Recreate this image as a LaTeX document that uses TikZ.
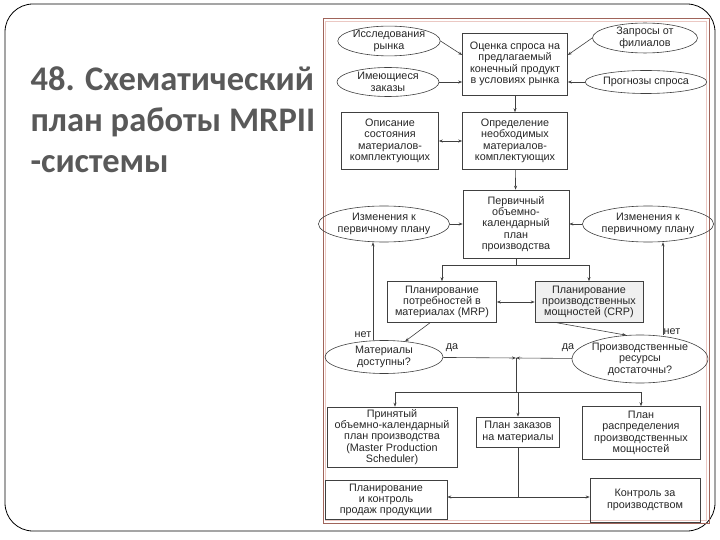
\documentclass[tikz,border=0pt]{standalone}
\usepackage{fontspec}
\setmainfont{Liberation Sans}
\newfontfamily\titlefont{Carlito}
\usetikzlibrary{arrows.meta, shapes.geometric}

\definecolor{titlegray}{RGB}{89,89,89}
\definecolor{framebrown}{RGB}{160,100,90}
\definecolor{framepink}{RGB}{235,200,195}

\begin{document}
\begin{tikzpicture}[x=1pt, y=-1pt,
    every node/.style={font=\fontsize{10.8}{11.4}\selectfont, text=black!85},
    box/.style={draw=black!75, line width=0.6pt, align=center, inner sep=1pt},
    oval/.style={draw=black!75, line width=0.6pt, ellipse, align=center, inner sep=0pt},
    arr/.style={-{Stealth[length=4pt, width=3pt]}, draw=black!75, line width=0.6pt},
    link/.style={draw=black!75, line width=0.6pt}]
  \useasboundingbox (0,0) rectangle (720,540);
  % slide frame and picture frame
  \draw[line width=0.8pt, rounded corners=28pt] (5,4) rectangle (715,531);
  \draw[framebrown, line width=1pt] (323,19) rectangle (709,523);
  \draw[framepink, line width=0.8pt] (325.5,21.5) rectangle (706.5,520.5);
  % title
  \node[anchor=base west, align=left, text=titlegray,
        font=\titlefont\bfseries\fontsize{34.5}{41}\selectfont] (title) at (27,173)
    {48. Схематический\\план работы MRPII\\-системы};

  % top row
  \node[box, minimum width=105pt, minimum height=62pt] (ocenka) at (515,64)
    {Оценка спроса на\\предлагаемый\\конечный продукт\\в условиях рынка};
  \node[oval, minimum width=102pt, minimum height=27pt] (issled) at (389,41) {Исследования\\рынка};
  \node[oval, minimum width=102pt, minimum height=29pt] (imeyu) at (388,82) {Имеющиеся\\заказы};
  \node[oval, minimum width=105pt, minimum height=29pt] (zapros) at (645,38) {Запросы от\\филиалов};
  \node[oval, minimum width=108pt, minimum height=23pt] (prognoz) at (646,82) {Прогнозы спроса};
  \draw[arr] (issled.east) -- ([yshift=9pt]ocenka.west);
  \draw[arr] (imeyu.east) -- (imeyu.east -| ocenka.west);
  \draw[arr] (zapros.west) -- ([yshift=9pt]ocenka.east);
  \draw[arr] (prognoz.west) -- (prognoz.west -| ocenka.east);

  % materials
  \node[box, minimum width=97pt, minimum height=57pt] (opis) at (390,141)
    {Описание\\состояния\\материалов-\\комплектующих};
  \node[box, minimum width=105pt, minimum height=57pt] (opred) at (515,141)
    {Определение\\необходимых\\материалов-\\комплектующих};
  \draw[arr] (ocenka) -- (opred);
  \draw[arr, {Stealth[length=4pt, width=3pt]}-{Stealth[length=4pt, width=3pt]}] (opis) -- (opred);

  % primary plan
  \node[box, minimum width=106pt, minimum height=68pt] (perv) at (516,224)
    {Первичный\\объемно-\\календарный\\план\\производства};
  \node[oval, minimum width=112pt, minimum height=36pt] (izmL) at (384,224) {Изменения к\\первичному плану};
  \node[oval, minimum width=111pt, minimum height=36pt] (izmR) at (648,224) {Изменения к\\первичному плану};
  \draw[arr] (opred) -- (perv);
  \draw[arr] (izmL) -- (perv);
  \draw[arr] (izmR) -- (perv);

  % MRP / CRP
  \coordinate (split) at (516,265);
  \node[box, minimum width=109pt, minimum height=41pt] (mrp) at (442,302)
    {Планирование\\потребностей в\\материалах (MRP)};
  \node[box, fill=black!6, minimum width=108pt, minimum height=41pt] (crp) at (589,302)
    {Планирование\\производственных\\мощностей (CRP)};
  \draw[link] (perv) -- (split);
  \draw[arr] (split) -| (mrp);
  \draw[arr] (split) -| (crp);
  \draw[arr, {Stealth[length=4pt, width=3pt]}-{Stealth[length=4pt, width=3pt]}] (mrp) -- (crp);

  % checks
  \node[oval, minimum width=118pt, minimum height=33pt] (mater) at (384,357) {Материалы\\доступны?};
  \node[oval, minimum width=125pt, minimum height=48pt] (proizv) at (640,359)
    {Производственные\\ресурсы\\достаточны?};
  \coordinate (junc) at (516,358);
  \draw[arr] ([xshift=-12pt]mrp.south) -- (mater);
  \draw[arr] ([xshift=-32pt]crp.south) -- (proizv.120);
  \draw[arr] (mater) -- (junc);
  \draw[arr] (proizv) -- (junc);
  \draw[arr] ([xshift=-11pt]mater.north) -- ([xshift=-11pt]izmL.south);
  \draw[arr] ([xshift=23pt]proizv.north) -- ([xshift=15pt]izmR.south);
  \node (daL) at (452,348) {да};
  \node (daR) at (568,348) {да};
  \node (netL) at (363,335) {нет};
  \node (netR) at (672,332) {нет};

  % plans
  \coordinate (split2) at (516,392);
  \node[box, minimum width=130pt, minimum height=60pt] (prin) at (392,437)
    {Принятый\\объемно-календарный\\план производства\\(Master Production\\Scheduler)};
  \node[box, minimum width=83pt, minimum height=30pt] (zakaz) at (518,432) {План заказов\\на материалы};
  \node[box, minimum width=118pt, minimum height=53pt] (raspr) at (641,433)
    {План\\распределения\\производственных\\мощностей};
  \draw[link] (junc) -- (split2);
  \draw[arr] (split2) -| ([xshift=3pt]prin.north);
  \draw[arr] (split2) -| (zakaz);
  \draw[arr] (split2) -| (raspr);

  % control
  \coordinate (split3) at (518,497);
  \node[box, minimum width=122pt, minimum height=39pt] (prodazh) at (386,500)
    {Планирование\\и контроль\\продаж продукции};
  \node[box, minimum width=110pt, minimum height=44pt] (kontrol) at (645,500)
    {Контроль за\\производством};
  \draw[link] (zakaz) -- (split3);
  \draw[arr] (split3) -- (split3 -| prodazh.east);
  \draw[arr] (split3) -- (split3 -| kontrol.west);
\end{tikzpicture}
\end{document}
